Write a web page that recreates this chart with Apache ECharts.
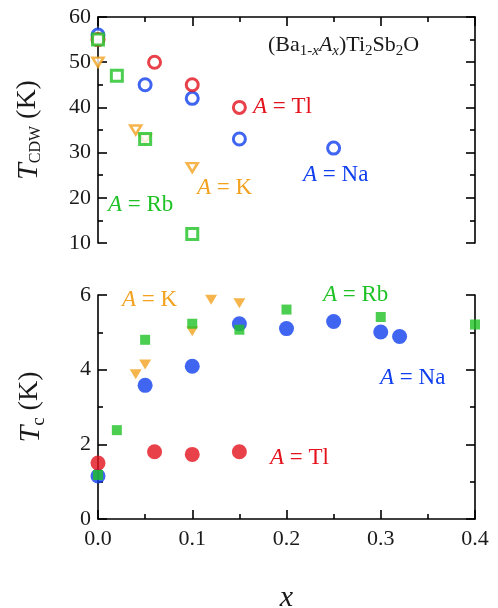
<!DOCTYPE html>
<html>
<head>
<meta charset="utf-8">
<script src="https://cdn.jsdelivr.net/npm/echarts@6/dist/echarts.min.js"></script>
<style>
  html, body { margin: 0; padding: 0; background: #fff; }
  #chart { width: 498px; height: 608px; }
</style>
</head>
<body>
<div id="chart"></div>
<script>
// 上图：T_CDW (K)
var naCdw = [[0, 56], [0.05, 45], [0.1, 42], [0.15, 33], [0.25, 31]];
var tlCdw = [[0, 55], [0.06, 50], [0.1, 45], [0.15, 40]];
var kCdw = [[0, 50], [0.04, 35], [0.05, 33], [0.1, 26.7]];
var rbCdw = [[0, 55], [0.02, 47], [0.05, 33], [0.1, 12]];

// 下图：Tc (K)
var naTc = [[0, 1.15], [0.05, 3.58], [0.1, 4.09], [0.15, 5.23], [0.2, 5.1], [0.25, 5.29], [0.3, 5.01], [0.32, 4.89]];
var tlTc = [[0, 1.5], [0.06, 1.8], [0.1, 1.73], [0.15, 1.8]];
var kTc = [[0.04, 3.88], [0.05, 4.14], [0.1, 5.03], [0.12, 5.87], [0.15, 5.78]];
var rbTc = [[0, 1.18], [0.02, 2.38], [0.05, 4.8], [0.1, 5.23], [0.15, 5.07], [0.2, 5.61], [0.3, 5.41], [0.4, 5.21]];

var blue = '#0f3fee', red = '#e3121c', orange = '#f2a21f', green = '#1fc226';
var serif = '"Liberation Serif", "DejaVu Serif", serif';

var myChart = echarts.init(document.getElementById('chart'));

// 坐标轴公共样式
function axisBase(extra) {
    var base = {
        axisLine: { show: true, onZero: false, lineStyle: { color: '#000', width: 1.6 } },
        axisTick: { show: true, inside: true, length: 9, lineStyle: { color: '#000', width: 1.6 } },
        minorTick: { show: true, splitNumber: 2, length: 5, lineStyle: { color: '#000', width: 1.6 } },
        splitLine: { show: false },
        axisLabel: { show: false }
    };
    return Object.assign(base, extra);
}

var labelStyle = { show: true, fontFamily: serif, fontSize: 22, color: '#1a1a1a' };

// 上下标的富文本
var rich = {
    n: { fontFamily: serif, fontSize: 22, verticalAlign: 'top', lineHeight: 26 },
    i: { fontFamily: serif, fontSize: 22, fontStyle: 'italic', verticalAlign: 'top', lineHeight: 26 },
    s: { fontFamily: serif, fontSize: 15, verticalAlign: 'top', lineHeight: 16, padding: [10, 0, 0, 0] },
    si: { fontFamily: serif, fontSize: 15, fontStyle: 'italic', verticalAlign: 'top', lineHeight: 16, padding: [10, 0, 0, 0] }
};

var nameRich = function (subSize) {
    return {
        t: { fontFamily: serif, fontSize: 30, fontStyle: 'italic', verticalAlign: 'top', lineHeight: 32, color: '#1a1a1a' },
        k: { fontFamily: serif, fontSize: 28, verticalAlign: 'top', lineHeight: 32, color: '#1a1a1a' },
        s: { fontFamily: serif, fontSize: subSize, verticalAlign: 'top', lineHeight: 18, padding: [14, 0, 0, 0], color: '#1a1a1a' }
    };
};

function note(txt, x, y, color) {
    return {
        type: 'text', left: x, top: y, z: 100,
        style: {
            text: '{i|A}{n| = ' + txt + '}',
            fill: color,
            rich: {
                n: { fontFamily: serif, fontSize: 23, fill: color },
                i: { fontFamily: serif, fontSize: 23, fontStyle: 'italic', fill: color }
            }
        }
    };
}

var option = {
    animation: false,
    backgroundColor: '#fff',
    textStyle: { fontFamily: serif },
    grid: [
        { left: 98, right: 23, top: 17, height: 226, outerBoundsMode: 'none' },
        { left: 98, right: 23, top: 295, height: 224, outerBoundsMode: 'none' }
    ],
    xAxis: [
        axisBase({ gridIndex: 0, type: 'value', position: 'top', min: 0, max: 0.4, interval: 0.1 }),
        axisBase({
            gridIndex: 1, type: 'value', position: 'bottom', min: 0, max: 0.4, interval: 0.1,
            axisLabel: Object.assign({ margin: 9, formatter: function (v) { return v.toFixed(1); } }, labelStyle),
            name: 'x', nameLocation: 'middle', nameGap: 64,
            nameTextStyle: { fontFamily: serif, fontSize: 30, fontStyle: 'italic', color: '#1a1a1a' }
        })
    ],
    yAxis: [
        axisBase({
            gridIndex: 0, type: 'value', position: 'left', min: 10, max: 60, interval: 10,
            axisLabel: Object.assign({ margin: 7 }, labelStyle),
            name: '{t|T}{s|CDW}{k| (K)}', nameLocation: 'middle', nameGap: 52,
            nameTextStyle: { fontFamily: serif, color: '#1a1a1a', rich: nameRich(16) }
        }),
        axisBase({ gridIndex: 0, type: 'value', position: 'right', min: 10, max: 60, interval: 10 }),
        axisBase({
            gridIndex: 1, type: 'value', position: 'left', min: 0, max: 6, interval: 2,
            axisLabel: Object.assign({ margin: 7 }, labelStyle),
            name: '{t|T}{s|c}{k| (K)}', nameLocation: 'middle', nameGap: 50,
            nameTextStyle: { fontFamily: serif, color: '#1a1a1a', rich: nameRich(19) }
        }),
        axisBase({ gridIndex: 1, type: 'value', position: 'right', min: 0, max: 6, interval: 2 })
    ],
    graphic: [
        {
            type: 'text', left: 268, top: 34, z: 100,
            style: {
                text: '{n|(Ba}{s|1-}{si|x}{i|A}{si|x}{n|)Ti}{s|2}{n|Sb}{s|2}{n|O}',
                fill: '#1a1a1a',
                rich: rich
            }
        },
        note('Tl', 253, 95, red),
        note('K', 197, 176, orange),
        note('Na', 303, 163, blue),
        note('Rb', 108, 193, green),
        note('K', 122, 288, orange),
        note('Rb', 323, 283, green),
        note('Na', 380, 366, blue),
        note('Tl', 270, 446, red)
    ],
    series: [
        // 上图：空心符号
        { type: 'scatter', xAxisIndex: 0, yAxisIndex: 0, data: naCdw, symbol: 'circle', symbolSize: 12,
          itemStyle: { color: '#fff', borderColor: blue, borderWidth: 3 } },
        { type: 'scatter', xAxisIndex: 0, yAxisIndex: 0, data: tlCdw, symbol: 'circle', symbolSize: 12,
          itemStyle: { color: '#fff', borderColor: red, borderWidth: 3 } },
        { type: 'scatter', xAxisIndex: 0, yAxisIndex: 0, data: kCdw, symbol: 'triangle', symbolRotate: 180, symbolSize: [11, 9],
          itemStyle: { color: '#fff', borderColor: orange, borderWidth: 2.5 } },
        { type: 'scatter', xAxisIndex: 0, yAxisIndex: 0, data: rbCdw, symbol: 'rect', symbolSize: 11,
          itemStyle: { color: '#fff', borderColor: green, borderWidth: 3 } },
        // 下图：实心符号
        { type: 'scatter', xAxisIndex: 1, yAxisIndex: 2, data: naTc, symbol: 'circle', symbolSize: 15,
          itemStyle: { color: blue } },
        { type: 'scatter', xAxisIndex: 1, yAxisIndex: 2, data: tlTc, symbol: 'circle', symbolSize: 15,
          itemStyle: { color: red } },
        { type: 'scatter', xAxisIndex: 1, yAxisIndex: 2, data: kTc, symbol: 'triangle', symbolRotate: 180, symbolSize: [12, 10],
          itemStyle: { color: orange } },
        { type: 'scatter', xAxisIndex: 1, yAxisIndex: 2, data: rbTc, symbol: 'rect', symbolSize: 10,
          itemStyle: { color: green } }
    ]
};

myChart.setOption(option);
</script>
</body>
</html>
